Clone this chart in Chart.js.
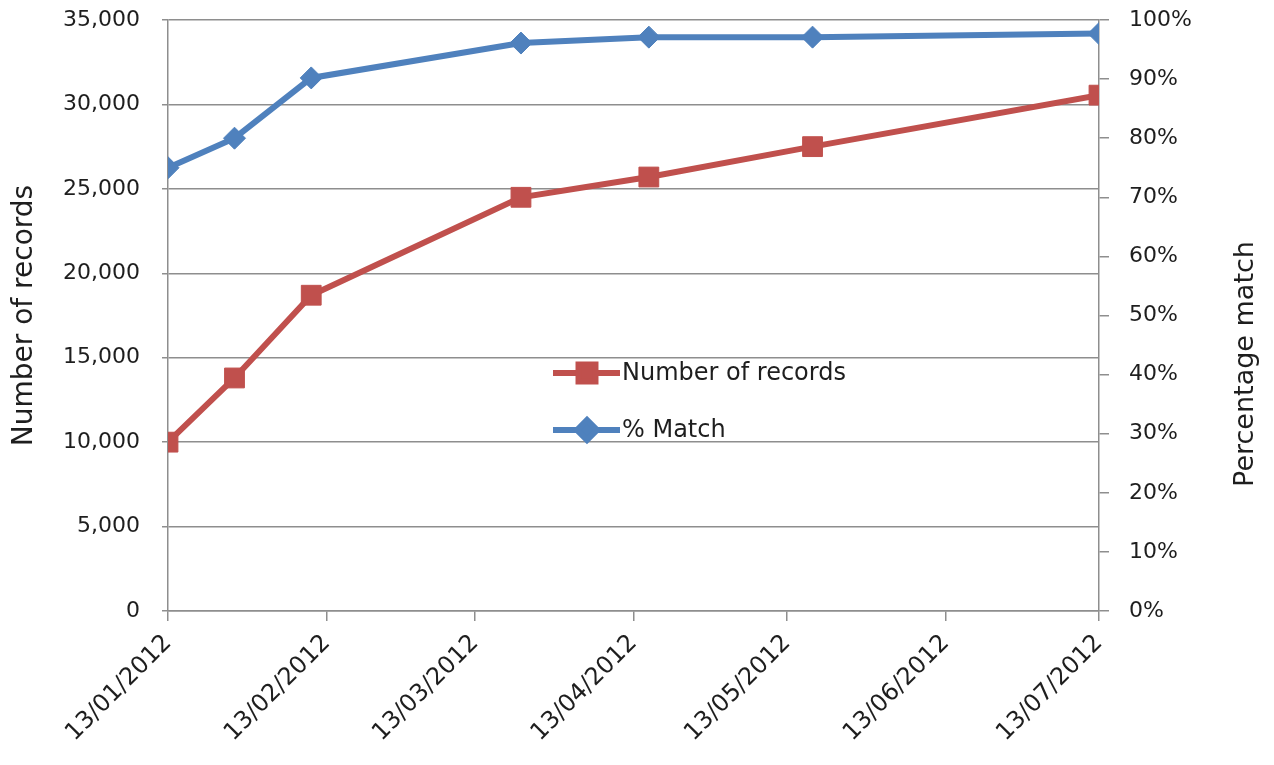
<!DOCTYPE html>
<html>
<head>
<meta charset="utf-8">
<title>Number of records and % Match</title>
<script src="https://cdn.jsdelivr.net/npm/chart.js@4.4.1/dist/chart.umd.min.js"></script>
<style>
  html, body { margin: 0; padding: 0; background: #ffffff; }
  #wrap { width: 1274px; height: 765px; position: relative; }
</style>
</head>
<body>
<div id="wrap"><canvas id="chart"></canvas></div>
<script>
// Sample dates (dd/mm/yyyy)
const sampleDates = ['13/01/2012', '26/01/2012', '10/02/2012', '22/03/2012', '16/04/2012', '18/05/2012', '13/07/2012'];
// Number of records at each sample date
const recordCounts = [10000, 13800, 18700, 24500, 25700, 27500, 30550];
// Percentage of records matched at each sample date
const matchPercent = [75, 80, 90.2, 96.1, 97.1, 97.1, 97.7];
// Date axis tick labels
const dateTicks = ['13/01/2012', '13/02/2012', '13/03/2012', '13/04/2012', '13/05/2012', '13/06/2012', '13/07/2012'];

const seriesNames = ['Number of records', '% Match'];
const seriesColors = ['#C0504D', '#4F81BD'];

// Convert a dd/mm/yyyy string to a day count relative to the first sample date
function toUtc(s) {
  const [d, m, y] = s.split('/').map(Number);
  return Date.UTC(y, m - 1, d);
}
const origin = toUtc(sampleDates[0]);
const dayOf = s => Math.round((toUtc(s) - origin) / 86400000);

const sampleDays = sampleDates.map(dayOf);
const tickDays = dateTicks.map(dayOf);

const gridColor = '#8e8e8e';
const textColor = '#1e1e1e';
const tickFont = { family: 'DejaVu Sans', size: 22 };

// Fixed box sizes so the plot area sits at a known place on the canvas
function fixBox(size) {
  return scale => {
    if (scale.isHorizontal()) scale.height = size; else scale.width = size;
    scale.paddingTop = 0;
    scale.paddingBottom = 0;
    scale.paddingLeft = 0;
    scale.paddingRight = 0;
  };
}

// Legend drawn inside the plot, with line + marker samples
const innerLegend = {
  id: 'innerLegend',
  afterDatasetsDraw(chart) {
    const ctx = chart.ctx;
    const rows = [373, 430];
    chart.data.datasets.forEach((ds, i) => {
      const y = rows[i];
      ctx.save();
      ctx.strokeStyle = ds.borderColor;
      ctx.lineWidth = 6;
      ctx.beginPath();
      ctx.moveTo(553, y);
      ctx.lineTo(620, y);
      ctx.stroke();
      ctx.fillStyle = ds.borderColor;
      ctx.strokeStyle = ds.borderColor;
      Chart.helpers.drawPoint(ctx, {
        pointStyle: ds.pointStyle,
        radius: ds.legendRadius,
        borderWidth: 1,
        rotation: 0
      }, 587, y);
      ctx.fillStyle = textColor;
      ctx.font = '24px "DejaVu Sans"';
      ctx.textAlign = 'left';
      ctx.textBaseline = 'middle';
      ctx.fillText(ds.label, 622, y + 1);
      ctx.restore();
    });
  }
};

// Title for the right-hand axis, reading bottom to top
const rightTitle = {
  id: 'rightTitle',
  afterDraw(chart) {
    const ctx = chart.ctx;
    ctx.save();
    ctx.translate(1246, 364);
    ctx.rotate(-Math.PI / 2);
    ctx.fillStyle = textColor;
    ctx.font = '27px "DejaVu Sans"';
    ctx.textAlign = 'center';
    ctx.textBaseline = 'middle';
    ctx.fillText('Percentage match', 0, 0);
    ctx.restore();
  }
};

new Chart(document.getElementById('chart'), {
  type: 'line',
  data: {
    datasets: [
      {
        label: seriesNames[0],
        data: sampleDays.map((d, i) => ({ x: d, y: recordCounts[i] })),
        yAxisID: 'yRecords',
        borderColor: seriesColors[0],
        backgroundColor: seriesColors[0],
        borderWidth: 6,
        pointStyle: 'rect',
        pointRadius: 14,
        legendRadius: 12,
        pointBorderWidth: 1,
        pointHoverRadius: 14,
        tension: 0,
        order: 2
      },
      {
        label: seriesNames[1],
        data: sampleDays.map((d, i) => ({ x: d, y: matchPercent[i] })),
        yAxisID: 'yMatch',
        borderColor: seriesColors[1],
        backgroundColor: seriesColors[1],
        borderWidth: 6,
        pointStyle: 'rectRot',
        pointRadius: 11,
        legendRadius: 10,
        pointBorderWidth: 1,
        pointHoverRadius: 11,
        tension: 0,
        order: 1
      }
    ]
  },
  options: {
    responsive: true,
    maintainAspectRatio: false,
    animation: false,
    events: [],
    layout: { padding: { top: 20, left: 0, right: 0, bottom: 0 } },
    plugins: {
      legend: { display: false },
      tooltip: { enabled: false }
    },
    scales: {
      x: {
        type: 'linear',
        min: tickDays[0],
        max: tickDays[tickDays.length - 1],
        afterBuildTicks: scale => { scale.ticks = tickDays.map(v => ({ value: v })); },
        afterFit: fixBox(154),
        grid: {
          drawOnChartArea: false,
          drawTicks: true,
          tickLength: 10,
          color: gridColor,
          lineWidth: 1.5
        },
        border: { display: true, color: gridColor, width: 1.5 },
        ticks: {
          autoSkip: false,
          minRotation: 45,
          maxRotation: 45,
          padding: 8,
          color: textColor,
          font: { family: 'DejaVu Sans', size: 24 },
          callback: v => dateTicks[tickDays.indexOf(v)]
        }
      },
      yRecords: {
        type: 'linear',
        position: 'left',
        min: 0,
        max: 35000,
        afterFit: fixBox(168),
        grid: {
          drawOnChartArea: true,
          drawTicks: true,
          tickLength: 6,
          color: gridColor,
          lineWidth: 1.5
        },
        border: { display: true, color: gridColor, width: 1.5 },
        ticks: {
          stepSize: 5000,
          padding: 22,
          color: textColor,
          font: tickFont,
          callback: v => v.toLocaleString('en-US')
        },
        title: {
          display: true,
          text: 'Number of records',
          color: textColor,
          font: { family: 'DejaVu Sans', size: 28 },
          padding: { top: 8, bottom: 0 }
        }
      },
      yMatch: {
        type: 'linear',
        position: 'right',
        min: 0,
        max: 100,
        afterFit: fixBox(175),
        grid: {
          drawOnChartArea: false,
          drawTicks: true,
          tickLength: 10,
          color: gridColor,
          lineWidth: 1.5
        },
        border: { display: true, color: gridColor, width: 1.5 },
        ticks: {
          stepSize: 10,
          padding: 20,
          color: textColor,
          font: tickFont,
          callback: v => v + '%'
        }
      }
    }
  },
  plugins: [innerLegend, rightTitle]
});
</script>
</body>
</html>
